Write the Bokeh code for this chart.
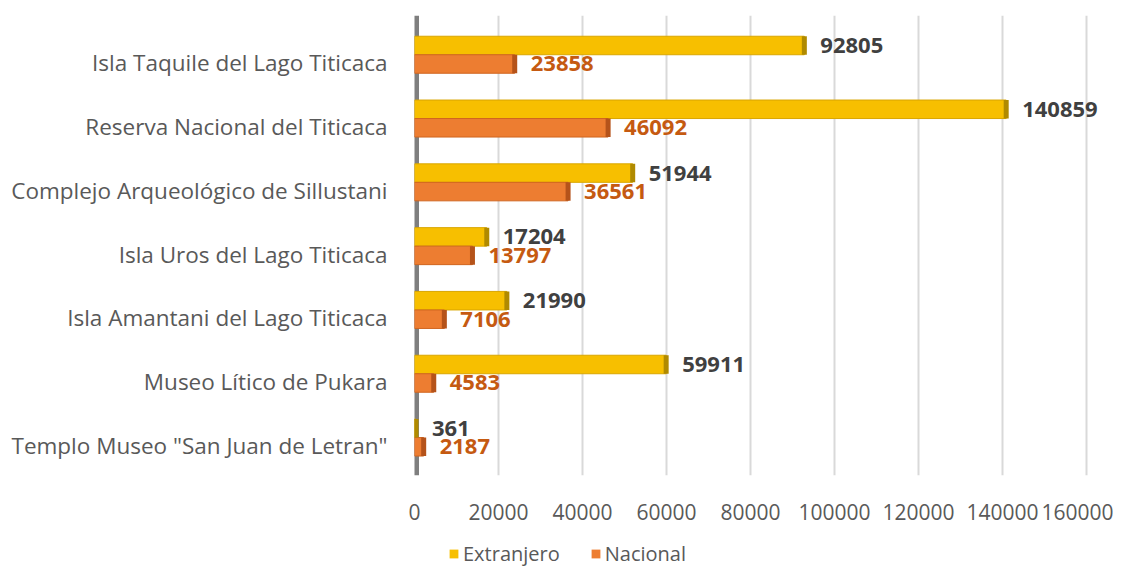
from bokeh.plotting import figure
from bokeh.layouts import column
from bokeh.models import (ColumnDataSource, Range1d, FixedTicker, Span, Legend, LegendItem,
                          BasicTickFormatter)
from bokeh.core.properties import value
from bokeh.embed import file_html
from bokeh.resources import INLINE

categories = [
    "Isla Taquile del Lago Titicaca",
    "Reserva Nacional del Titicaca",
    "Complejo Arqueológico de Sillustani",
    "Isla Uros del Lago Titicaca",
    "Isla Amantani del Lago Titicaca",
    "Museo Lítico de Pukara",
    'Templo Museo "San Juan de Letran"',
]
extranjero = [92805, 140859, 51944, 17204, 21990, 59911, 361]
nacional = [23858, 46092, 36561, 13797, 7106, 4583, 2187]
x_ticks = [0, 20000, 40000, 60000, 80000, 100000, 120000, 140000, 160000]
series_names = ["Extranjero", "Nacional"]

n = len(categories)
pos = [n - 1 - i for i in range(n)]
y_ext = [p_ + 0.27 for p_ in pos]
y_nac = [p_ - 0.02 for p_ in pos]

src_e = ColumnDataSource(dict(y=y_ext, v=extranjero, t=[str(v) for v in extranjero]))
src_n = ColumnDataSource(dict(y=y_nac, v=nacional, t=[str(v) for v in nacional]))

FONT = "Open Sans"
GREY = "#595959"
YEL, YEL_D = "#F7BF00", "#B08A00"
ORA, ORA_D = "#ED7D31", "#B5531A"

p = figure(width=1113, height=530, output_backend="svg", toolbar_location=None,
           x_range=Range1d(0, 164500), y_range=Range1d(-0.47, 6.74),
           min_border_left=414, min_border_right=8, min_border_top=15,
           min_border_bottom=55)
p.outline_line_color = None
p.background_fill_color = "white"

wall = Span(location=0, dimension="height", line_color="#7F7F7F", line_width=9, level="underlay")
p.add_layout(wall)

p.hbar(y="y", right="v", left=0, height=0.29, source=src_e,
       fill_color=YEL, line_color="#D9A600", line_width=1)
p.hbar(y="y", right="v", left=0, height=0.29, source=src_n,
       fill_color=ORA, line_color="#D0651F", line_width=1)
# darker end caps (3D look)
p.rect(x="v", y="y", width=5, width_units="screen", height=0.29, source=src_e,
       fill_color=YEL_D, line_color=None)
p.rect(x="v", y="y", width=5, width_units="screen", height=0.29, source=src_n,
       fill_color=ORA_D, line_color=None)

p.text(x="v", y="y", text="t", source=src_e, x_offset=16, text_baseline="middle",
       text_font=value(FONT), text_font_size="22px", text_font_style="bold", text_color="#404040")
p.text(x="v", y="y", text="t", source=src_n, x_offset=16, text_baseline="middle",
       text_font=value(FONT), text_font_size="22px", text_font_style="bold", text_color="#C55A11")

p.xaxis.ticker = FixedTicker(ticks=x_ticks)
p.xaxis.formatter = BasicTickFormatter(use_scientific=False)
p.xaxis.axis_line_color = None
p.xaxis.major_tick_line_color = None
p.xaxis.minor_tick_line_color = None
p.xaxis.major_label_text_font = FONT
p.xaxis.major_label_text_font_size = "21px"
p.xaxis.major_label_text_color = GREY
p.xaxis.major_label_standoff = 22

p.yaxis.ticker = FixedTicker(ticks=pos)
p.yaxis.major_label_overrides = {pos[i]: categories[i] for i in range(n)}
p.yaxis.axis_line_color = None
p.yaxis.major_tick_line_color = None
p.yaxis.minor_tick_line_color = None
p.yaxis.major_label_text_font = FONT
p.yaxis.major_label_text_font_size = "22.5px"
p.yaxis.major_label_text_color = GREY
p.yaxis.major_label_standoff = 21

p.xgrid.grid_line_color = "#D9D9D9"
p.xgrid.grid_line_width = 2
p.ygrid.grid_line_color = None

# legend strip (its frame is aligned with the main plot's frame by the column layout)
p2 = figure(width=1113, height=37, output_backend="svg", toolbar_location=None,
            x_range=Range1d(0, 1), y_range=Range1d(0, 1),
            x_axis_location=None, y_axis_location=None, min_border=0)
p2.outline_line_color = None
p2.xgrid.grid_line_color = None
p2.ygrid.grid_line_color = None
dummy = ColumnDataSource(dict(y=[-5], l=[-5], r=[-4]))
le = p2.hbar(y="y", left="l", right="r", height=0.5, source=dummy, fill_color=YEL, line_color=None)
ln = p2.hbar(y="y", left="l", right="r", height=0.5, source=dummy, fill_color=ORA, line_color=None)
legend = Legend(items=[LegendItem(label=series_names[0], renderers=[le]),
                       LegendItem(label=series_names[1], renderers=[ln])],
                orientation="horizontal", location=(34, 0))
legend.label_text_font = FONT
legend.label_text_font_size = "20px"
legend.label_text_color = GREY
legend.glyph_width = 11
legend.glyph_height = 11
legend.spacing = 30
legend.padding = 0
legend.margin = 0
legend.border_line_color = None
legend.background_fill_alpha = 0
legend.label_standoff = 4
p2.add_layout(legend, "center")

open("out.html", "w").write(file_html(column(p, p2), INLINE))
